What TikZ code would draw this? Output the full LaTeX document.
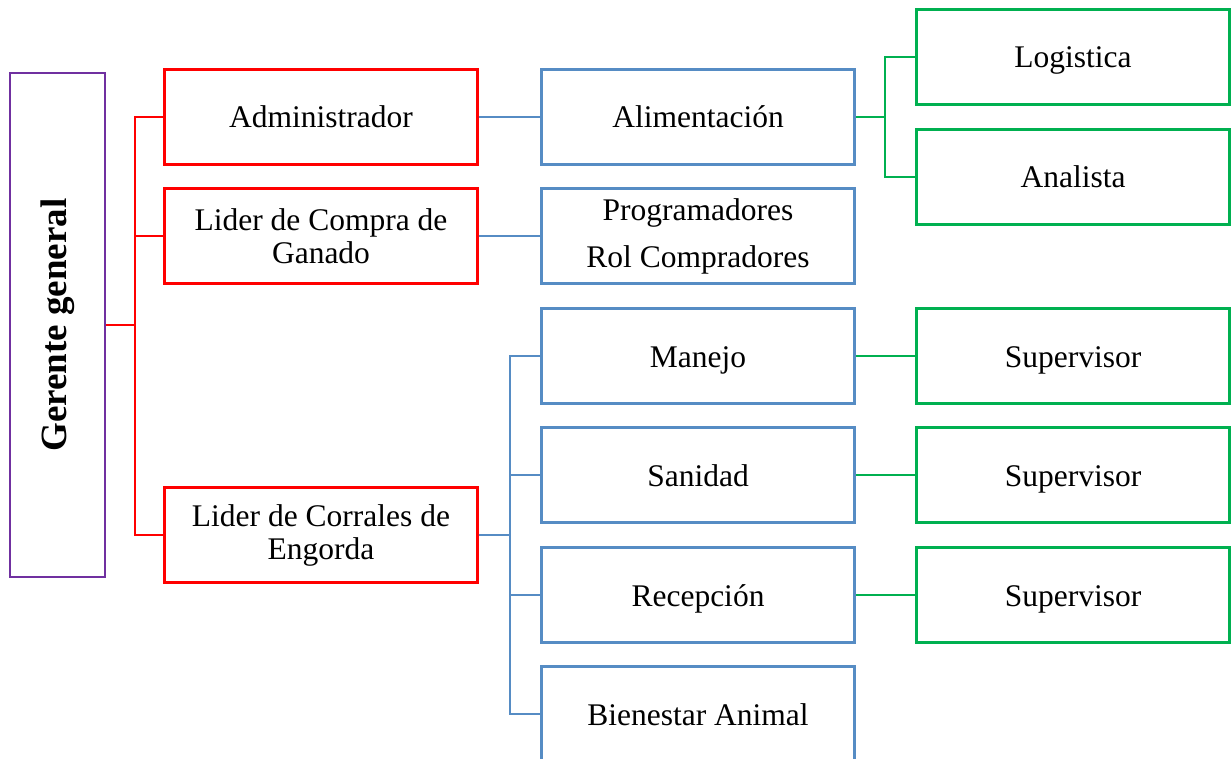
\documentclass[tikz,border=0pt]{standalone}
\usepackage{fontspec}
\setmainfont{Liberation Serif}
\usepackage{xcolor}
\usepackage{tikz}

\definecolor{jefe}{RGB}{112,48,160}
\definecolor{lider}{RGB}{255,0,0}
\definecolor{area}{RGB}{86,140,196}
\definecolor{apoyo}{RGB}{0,176,80}

\tikzset{
	orgbox/.style={draw, line width=2.6pt, minimum width=313pt, minimum height=95pt,
		inner sep=0pt, align=center, text height=22pt, text depth=0pt,
		font=\fontsize{31.5}{33}\selectfont},
	dosline/.style={text height=, text depth=},
	liderbox/.style={orgbox, draw=lider},
	areabox/.style={orgbox, draw=area},
	apoyobox/.style={orgbox, draw=apoyo},
	liga/.style={line width=2.8pt}
}

\begin{document}
\begin{tikzpicture}[x=1pt, y=-1pt]
	\useasboundingbox (0,0) rectangle (1231,759);
	\clip (0,0) rectangle (1231,759);

	% gerente
	\node[draw=jefe, line width=2.6pt, minimum width=95pt, minimum height=504pt, inner sep=0pt]
		(gerente) at (57.5,325) {\rotatebox{90}{\fontsize{37}{40}\selectfont\bfseries Gerente general}};

	% lideres
	\node[liderbox] (admin) at (321,117) {Administrador};
	\node[liderbox, dosline] (compra) at (321,236) {Lider de Compra de\\Ganado};
	\node[liderbox, dosline] (corrales) at (321,535) {Lider de Corrales de\\Engorda};

	% areas
	\node[areabox] (alim) at (698,117) {Alimentación};
	\node[areabox, dosline] (progr) at (698,236) {Programadores\\[14pt]Rol Compradores};
	\node[areabox] (manejo) at (698,356) {Manejo};
	\node[areabox] (sanidad) at (698,475) {Sanidad};
	\node[areabox] (recep) at (698,595) {Recepción};
	\node[areabox] (bienestar) at (698,714) {Bienestar Animal};

	% apoyo
	\node[apoyobox] (logis) at (1073,57) {Logistica};
	\node[apoyobox] (analista) at (1073,177) {Analista};
	\node[apoyobox] (sup1) at (1073,356) {Supervisor};
	\node[apoyobox] (sup2) at (1073,475) {Supervisor};
	\node[apoyobox] (sup3) at (1073,595) {Supervisor};

	% conexiones rojas
	\coordinate (rbus) at (135,325);
	\draw[liga, lider] (gerente.east) -- (rbus);
	\foreach \n in {admin,compra,corrales}
		\draw[liga, lider] (rbus) |- (\n.west);

	% conexiones azules
	\draw[liga, area] (admin.east) -- (alim.west);
	\draw[liga, area] (compra.east) -- (progr.west);
	\coordinate (bbus) at (510,535);
	\draw[liga, area] (corrales.east) -- (bbus);
	\foreach \n in {manejo,sanidad,recep,bienestar}
		\draw[liga, area] (bbus) |- (\n.west);

	% conexiones verdes
	\coordinate (gbus) at (885,117);
	\draw[liga, apoyo] (alim.east) -- (gbus);
	\foreach \n in {logis,analista}
		\draw[liga, apoyo] (gbus) |- (\n.west);
	\draw[liga, apoyo] (manejo.east) -- (sup1.west);
	\draw[liga, apoyo] (sanidad.east) -- (sup2.west);
	\draw[liga, apoyo] (recep.east) -- (sup3.west);
\end{tikzpicture}
\end{document}
